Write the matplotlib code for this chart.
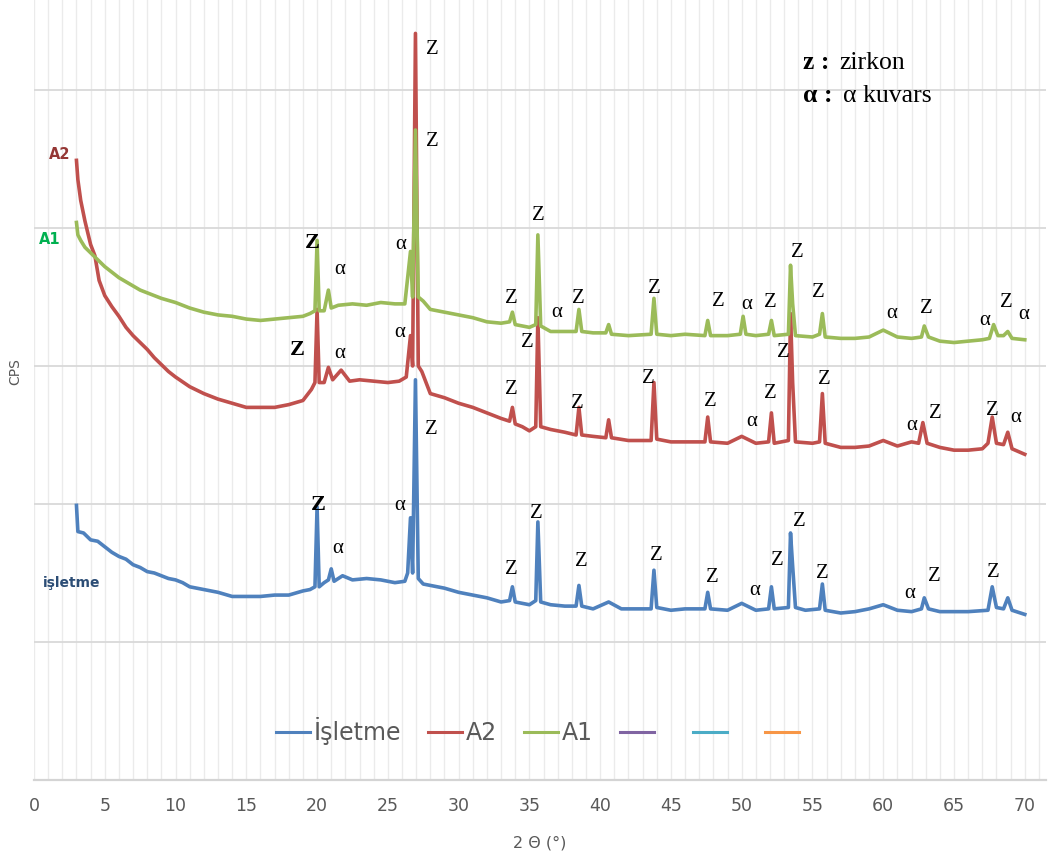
import matplotlib
matplotlib.use("Agg")
import matplotlib.pyplot as plt
from matplotlib.ticker import MultipleLocator

# XRD patterns (2-theta in degrees, intensity in CPS)
isletme_x = [3.0, 3.1, 3.5, 4.0, 4.5, 5.0, 5.5, 6.0, 6.5, 7.0, 7.5, 8.0, 8.5, 9.0, 9.5,
             10.0, 10.5, 11.0, 11.5, 12.0, 13.0, 14.0, 15.0, 16.0, 17.0, 18.0, 19.0,
             19.5, 19.85, 20.0, 20.15, 20.5, 20.8, 21.0, 21.2, 21.8, 22.5, 23.5, 24.5,
             25.5, 26.2, 26.4, 26.6, 26.75, 26.95, 27.15, 27.5, 28.0, 29.0, 30.0, 31.0,
             32.0, 33.0, 33.6, 33.8, 34.0, 35.0, 35.45, 35.6, 35.8, 36.5, 37.5, 38.3,
             38.5, 38.7, 39.5, 40.6, 41.5, 42.5, 43.6, 43.8, 44.0, 45.0, 46.0, 47.4,
             47.6, 47.8, 49.0, 50.0, 51.0, 51.9, 52.1, 52.3, 53.3, 53.45, 53.6, 53.8,
             54.5, 55.5, 55.7, 55.9, 57.0, 58.0, 59.0, 60.0, 61.0, 62.0, 62.7, 62.9,
             63.2, 64.0, 65.0, 66.0, 67.4, 67.7, 68.0, 68.5, 68.8, 69.1, 70.0]
isletme_y = [1990, 1800, 1790, 1740, 1730, 1690, 1650, 1620, 1600, 1560, 1540, 1510, 1500,
             1480, 1460, 1450, 1430, 1400, 1390, 1380, 1360, 1330, 1330, 1330, 1340, 1340,
             1370, 1380, 1400, 1980, 1400, 1430, 1450, 1530, 1440, 1480, 1450, 1460, 1450,
             1430, 1440, 1500, 1900, 1500, 2900, 1460, 1420, 1410, 1390, 1360, 1340, 1320,
             1290, 1300, 1400, 1290, 1270, 1300, 1870, 1290, 1270, 1260, 1260, 1410, 1260,
             1240, 1290, 1240, 1240, 1240, 1520, 1250, 1230, 1240, 1240, 1360, 1240, 1230,
             1280, 1230, 1240, 1400, 1240, 1250, 1790, 1550, 1250, 1230, 1240, 1420, 1230,
             1210, 1220, 1240, 1270, 1230, 1220, 1240, 1320, 1240, 1220, 1220, 1220, 1230,
             1400, 1250, 1240, 1320, 1230, 1200]

a2_x = [3.0, 3.1, 3.3, 3.6, 4.0, 4.3, 4.6, 5.0, 5.5, 6.0, 6.5, 7.0, 7.5, 8.0, 8.5, 9.0,
        9.5, 10.0, 11.0, 12.0, 13.0, 14.0, 15.0, 16.0, 17.0, 18.0, 19.0, 19.6, 19.85,
        20.0, 20.15, 20.5, 20.8, 21.1, 21.7, 22.3, 23.0, 24.0, 25.0, 25.8, 26.3, 26.6,
        26.75, 26.95, 27.15, 27.4, 28.0, 29.0, 30.0, 31.0, 32.0, 33.0, 33.6, 33.8, 34.0,
        34.5, 35.0, 35.45, 35.6, 35.8, 36.5, 37.5, 38.3, 38.5, 38.7, 39.5, 40.4, 40.6,
        40.8, 42.0, 43.6, 43.8, 44.0, 45.0, 46.0, 47.4, 47.6, 47.8, 49.0, 50.0, 51.0,
        51.9, 52.1, 52.3, 53.3, 53.45, 53.6, 53.8, 55.0, 55.5, 55.7, 55.9, 57.0, 58.0,
        59.0, 60.0, 61.0, 62.0, 62.5, 62.8, 63.1, 64.0, 65.0, 66.0, 67.0, 67.4, 67.7,
        68.0, 68.5, 68.8, 69.1, 70.0]
a2_y = [4490, 4350, 4200, 4050, 3880, 3800, 3620, 3510, 3430, 3360, 3280, 3220, 3170,
        3120, 3060, 3010, 2960, 2920, 2850, 2800, 2760, 2730, 2700, 2700, 2700, 2720,
        2750, 2830, 2880, 3410, 2880, 2880, 2990, 2900, 2970, 2890, 2900, 2890, 2880,
        2890, 2920, 3220, 3000, 5410, 3000, 2960, 2800, 2770, 2730, 2700, 2660, 2620,
        2600, 2700, 2580, 2560, 2530, 2560, 3350, 2560, 2540, 2520, 2500, 2700, 2500,
        2490, 2480, 2610, 2480, 2460, 2460, 2880, 2470, 2450, 2450, 2450, 2630, 2450,
        2440, 2490, 2440, 2450, 2660, 2440, 2460, 3380, 2880, 2450, 2440, 2450, 2800,
        2440, 2410, 2410, 2420, 2460, 2420, 2450, 2440, 2590, 2440, 2410, 2390, 2390,
        2400, 2440, 2630, 2440, 2430, 2520, 2400, 2360]

a1_x = [3.0, 3.1, 3.3, 3.6, 4.0, 4.5, 5.0, 5.5, 6.0, 6.5, 7.0, 7.5, 8.0, 9.0, 10.0, 11.0,
        12.0, 13.0, 14.0, 15.0, 16.0, 17.0, 18.0, 19.0, 19.5, 19.85, 20.0, 20.15, 20.5,
        20.8, 21.0, 21.5, 22.5, 23.5, 24.5, 25.5, 26.2, 26.6, 26.75, 26.95, 27.15, 27.5,
        28.0, 29.0, 30.0, 31.0, 32.0, 33.0, 33.6, 33.8, 34.0, 35.0, 35.45, 35.6, 35.8,
        36.5, 37.5, 38.3, 38.5, 38.7, 39.5, 40.4, 40.6, 40.8, 42.0, 43.6, 43.8, 44.0,
        45.0, 46.0, 47.4, 47.6, 47.8, 49.0, 49.9, 50.1, 50.3, 51.0, 51.9, 52.1, 52.3,
        53.3, 53.45, 53.6, 53.8, 55.0, 55.5, 55.7, 55.9, 57.0, 58.0, 59.0, 60.0, 61.0,
        62.0, 62.7, 62.9, 63.2, 64.0, 65.0, 66.0, 67.0, 67.5, 67.8, 68.1, 68.5, 68.8,
        69.1, 70.0]
a1_y = [4040, 3950, 3910, 3860, 3820, 3770, 3720, 3680, 3640, 3610, 3580, 3550, 3530,
        3490, 3460, 3420, 3390, 3370, 3360, 3340, 3330, 3340, 3350, 3360, 3380, 3400,
        3910, 3400, 3400, 3550, 3420, 3440, 3450, 3440, 3460, 3450, 3450, 3830, 3500,
        4710, 3500, 3470, 3410, 3390, 3370, 3350, 3320, 3310, 3320, 3390, 3300, 3280,
        3300, 3950, 3290, 3250, 3250, 3250, 3410, 3250, 3240, 3240, 3300, 3230, 3220,
        3230, 3490, 3230, 3220, 3230, 3220, 3330, 3220, 3220, 3230, 3360, 3230, 3220,
        3230, 3330, 3220, 3230, 3730, 3450, 3220, 3210, 3230, 3380, 3210, 3200, 3200,
        3210, 3260, 3210, 3200, 3210, 3290, 3210, 3180, 3170, 3180, 3190, 3200, 3300,
        3220, 3220, 3250, 3200, 3190]

# phase labels: (text, 2theta, CPS, bold)
peak_labels = [
    ("Z", 19.64, 3891, True), ("α", 21.61, 3696, False), ("α", 25.92, 3877, False),
    ("Z", 28.18, 4630, False), ("Z", 35.60, 4087, False), ("Z", 33.76, 3486, False),
    ("α", 36.94, 3384, False), ("Z", 38.43, 3486, False), ("Z", 43.86, 3558, False),
    ("Z", 48.32, 3464, False), ("α", 50.36, 3442, False), ("Z", 52.06, 3457, False),
    ("Z", 53.90, 3819, False), ("Z", 55.45, 3536, False), ("α", 60.61, 3377, False),
    ("Z", 63.08, 3413, False), ("α", 67.17, 3333, False), ("Z", 68.73, 3457, False),
    ("α", 69.93, 3370, False),
    ("Z", 28.18, 5290, False), ("Z", 18.58, 3116, True), ("α", 21.61, 3094, False),
    ("α", 25.85, 3246, False), ("Z", 34.89, 3167, False), ("Z", 33.76, 2833, False),
    ("Z", 38.36, 2725, False), ("Z", 43.44, 2906, False), ("Z", 47.82, 2746, False),
    ("α", 50.72, 2601, False), ("Z", 52.06, 2804, False), ("Z", 52.98, 3101, False),
    ("Z", 55.87, 2899, False), ("α", 62.02, 2572, False), ("Z", 63.71, 2659, False),
    ("Z", 67.74, 2681, False), ("α", 69.36, 2630, False), ("Z", 28.11, 2543, False),
    ("Z", 20.06, 1993, True), ("α", 21.47, 1674, False), ("α", 25.85, 1986, False),
    ("Z", 35.46, 1928, False), ("Z", 33.76, 1522, False), ("Z", 38.64, 1580, False),
    ("Z", 43.94, 1630, False), ("Z", 47.96, 1464, False), ("α", 50.93, 1370, False),
    ("Z", 52.55, 1587, False), ("Z", 54.11, 1870, False), ("Z", 55.73, 1493, False),
    ("α", 61.88, 1355, False), ("Z", 63.64, 1471, False), ("Z", 67.81, 1507, False),
]

BLUE, RED, GREEN = "#4f81bd", "#c0504d", "#9bbb59"
GREY = "#595959"
SERIF = "Liberation Serif"
LW = 2.6

fig = plt.figure(figsize=(10.51, 8.59), dpi=100)
ax = fig.add_axes([34 / 1051, 1 - 780 / 859, 1012 / 1051, 780 / 859])

ax.plot(isletme_x, isletme_y, color=BLUE, lw=LW, label="İşletme")
ax.plot(a2_x, a2_y, color=RED, lw=LW, label="A2")
ax.plot(a1_x, a1_y, color=GREEN, lw=LW, label="A1")
# empty series that still show up in the legend
ax.plot([], [], color="#8064a2", lw=2.2, label=" ")
ax.plot([], [], color="#4bacc6", lw=2.2, label=" ")
ax.plot([], [], color="#f79646", lw=2.2, label=" ")

ax.set_xlim(0, 71.5)
ax.set_ylim(0, 5652)
ax.xaxis.set_major_locator(MultipleLocator(5))
ax.xaxis.set_minor_locator(MultipleLocator(1))
ax.yaxis.set_major_locator(MultipleLocator(1000))
ax.set_yticklabels([])
ax.tick_params(axis="both", which="both", length=0)
ax.tick_params(axis="x", labelsize=12.5, labelcolor=GREY, pad=12)
ax.grid(axis="x", which="both", color="#ebebeb", lw=1)
ax.grid(axis="y", which="major", color="#d9d9d9", lw=1.3)
ax.set_axisbelow(True)
for s in ["top", "right", "left"]:
    ax.spines[s].set_visible(False)
ax.spines["bottom"].set_color("#d4d4d4")
ax.spines["bottom"].set_linewidth(1.6)

ax.set_xlabel("2 Θ (°)", fontsize=11.5, color=GREY, labelpad=15)
fig.text(15 / 1051, 1 - 372 / 859, "CPS", rotation=90, ha="center", va="center",
         fontsize=10, color=GREY)

for txt, x, y, bold in peak_labels:
    ax.text(x, y, txt, ha="center", va="center", family=SERIF,
            fontsize=16 if bold else 15, fontweight="bold" if bold else "normal")

# series names next to the curves
ax.text(1.84, 4529, "A2", ha="center", va="center", fontsize=10.5,
        fontweight="bold", color="#953735")
ax.text(1.13, 3913, "A1", ha="center", va="center", fontsize=10.5,
        fontweight="bold", color="#00b050")
ax.text(2.68, 1428, "işletme", ha="center", va="center", fontsize=10,
        fontweight="bold", color="#2c4d75")

# phase key
ax.text(54.32, 5196, "z :", ha="left", va="center", family=SERIF, fontsize=18.5,
        fontweight="bold")
ax.text(56.93, 5196, "zirkon", ha="left", va="center", family=SERIF, fontsize=18.5)
ax.text(54.32, 4957, "α :", ha="left", va="center", family=SERIF, fontsize=18.5,
        fontweight="bold")
ax.text(57.15, 4957, "α kuvars", ha="left", va="center", family=SERIF, fontsize=18.5)

leg = ax.legend(loc="center", bbox_to_anchor=(0.503, 0.063), ncol=6, frameon=False,
                fontsize=17, handlelength=1.45, handletextpad=0.15, columnspacing=1.15)
for t in leg.get_texts():
    t.set_color(GREY)
for h in leg.get_lines():
    h.set_linewidth(2.2)

fig.savefig("out.png", dpi=100)
